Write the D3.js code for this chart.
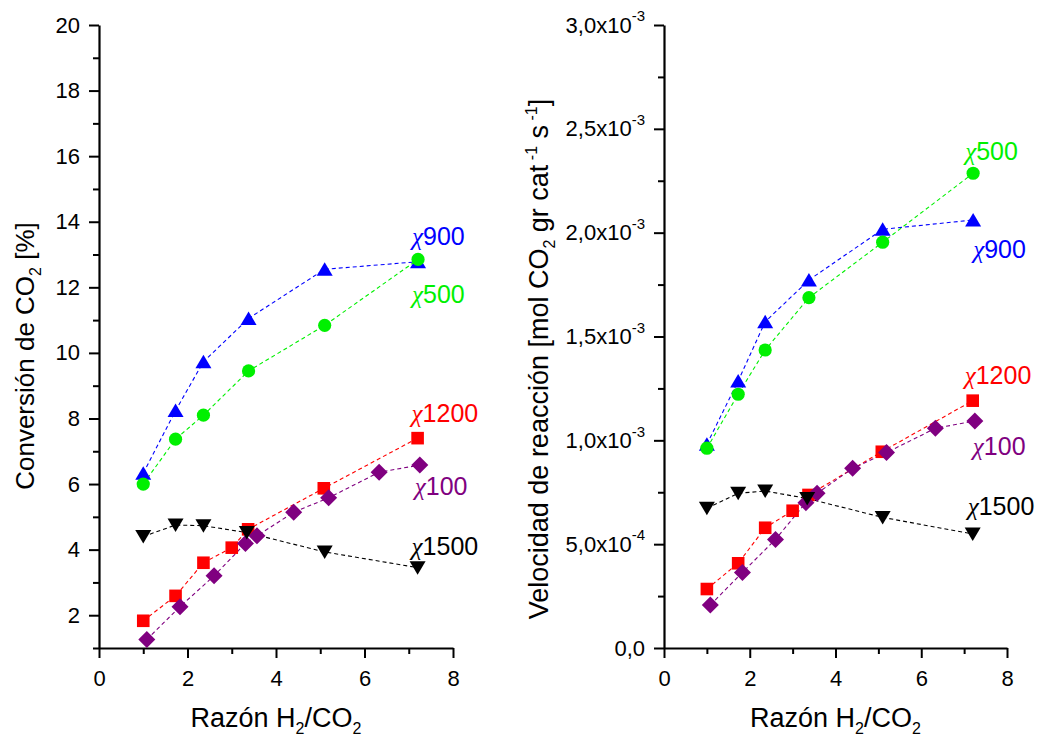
<!DOCTYPE html>
<html><head><meta charset="utf-8">
<script src="https://cdn.jsdelivr.net/npm/d3@7/dist/d3.min.js"></script>
<style>
body{margin:0;background:#fff}
svg{display:block}
text{font-family:"Liberation Sans",Arial,Helvetica,sans-serif;fill:#000}
</style>
</head><body>
<svg id="chart" width="1059" height="738"></svg>
<script>
// ---------------- data ----------------
const xMajorTicks = [0, 2, 4, 6, 8];
const xMinorTicks = [1, 3, 5, 7];
const convMajorTicks = [2, 4, 6, 8, 10, 12, 14, 16, 18, 20];
const convMinorTicks = [1, 3, 5, 7, 9, 11, 13, 15, 17, 19];
const rateMajorTicks = [0, 5e-4, 1e-3, 1.5e-3, 2e-3, 2.5e-3, 3e-3];
const rateMinorTicks = [2.5e-4, 7.5e-4, 1.25e-3, 1.75e-3, 2.25e-3, 2.75e-3];

const seriesNames = ["χ900", "χ500", "χ1200", "χ100", "χ1500"];

const ratio900  = [1.0, 1.73, 2.36, 3.38, 5.1, 7.21];
const ratio500  = [1.0, 1.73, 2.36, 3.38, 5.1, 7.21];
const ratio1200 = [1.0, 1.73, 2.36, 3.0, 3.37, 5.08, 7.2];
const ratio100  = [1.08, 1.83, 2.6, 3.31, 3.57, 4.4, 5.19, 6.33, 7.25];
const ratio1500 = [1.0, 1.73, 2.36, 3.34, 5.1, 7.2];

const conv900  = [6.33, 8.24, 9.73, 11.05, 12.55, 12.78];
const conv500  = [6.0, 7.37, 8.1, 9.45, 10.84, 12.85];
const conv1200 = [1.83, 2.59, 3.6, 4.06, 4.62, 5.87, 7.4];
const conv100  = [1.26, 2.26, 3.2, 4.19, 4.42, 5.14, 5.58, 6.36, 6.58];
const conv1500 = [4.4, 4.75, 4.73, 4.52, 3.93, 3.45];

const rate900  = [0.981e-3, 1.286e-3, 1.571e-3, 1.772e-3, 2.016e-3, 2.061e-3];
const rate500  = [0.962e-3, 1.222e-3, 1.435e-3, 1.687e-3, 1.954e-3, 2.286e-3];
const rate1200 = [0.284e-3, 0.408e-3, 0.579e-3, 0.661e-3, 0.737e-3, 0.945e-3, 1.191e-3];
const rate100  = [0.207e-3, 0.364e-3, 0.523e-3, 0.700e-3, 0.745e-3, 0.865e-3, 0.941e-3, 1.058e-3, 1.093e-3];
const rate1500 = [0.673e-3, 0.745e-3, 0.756e-3, 0.72e-3, 0.629e-3, 0.549e-3];

// ---------------- styles ----------------
const colors = {"χ900":"#0000ff","χ500":"#00f000","χ1200":"#ff0000","χ100":"#800080","χ1500":"#000000"};
const shapes = {"χ900":"up","χ500":"circle","χ1200":"square","χ100":"diamond","χ1500":"down"};

const svg = d3.select("#chart");

function markerPath(shape){
  const p = d3.path();
  if(shape==="up"){ p.moveTo(0,-7); p.lineTo(8,6.5); p.lineTo(-8,6.5); p.closePath(); }
  else if(shape==="down"){ p.moveTo(0,7); p.lineTo(8,-6.5); p.lineTo(-8,-6.5); p.closePath(); }
  else if(shape==="square"){ p.rect(-6.3,-6.3,12.6,12.6); }
  else if(shape==="diamond"){ p.moveTo(0,-8.5); p.lineTo(8.5,0); p.lineTo(0,8.5); p.lineTo(-8.5,0); p.closePath(); }
  else { p.arc(0,0,6.6,0,2*Math.PI); }
  return p.toString();
}

function drawPanel(cfg){
  const x = d3.scaleLinear().domain([0,8]).range(cfg.xRange);
  const y = d3.scaleLinear().domain(cfg.yDomain).range([648,25]);
  const g = svg.append("g");

  // minor ticks
  g.append("g").attr("transform",`translate(0,648)`)
    .call(d3.axisBottom(x).tickValues(xMinorTicks).tickSize(6).tickFormat(""))
    .call(s=>s.select(".domain").remove());
  g.append("g").attr("transform",`translate(${cfg.xRange[0]},0)`)
    .call(d3.axisLeft(y).tickValues(cfg.yMinor).tickSize(6).tickFormat(""))
    .call(s=>s.select(".domain").remove());

  // major axes
  const xa = g.append("g").attr("transform",`translate(0,648)`)
    .call(d3.axisBottom(x).tickValues(xMajorTicks).tickSize(10).tickSizeOuter(0).tickPadding(7).tickFormat(d3.format("d")));
  const ya = g.append("g").attr("transform",`translate(${cfg.xRange[0]},0)`)
    .call(d3.axisLeft(y).tickValues(cfg.yMajor).tickSize(10).tickSizeOuter(0).tickPadding(9).tickFormat(cfg.fmt));

  g.selectAll(".domain").attr("stroke","#000").attr("stroke-width",2.2);
  g.selectAll(".tick line").attr("stroke","#000").attr("stroke-width",2);
  g.selectAll(".tick text").attr("font-size",22).attr("font-family","Liberation Sans, Arial, sans-serif").attr("fill","#000");
  xa.selectAll(".tick text").attr("dy","0.95em");

  if(cfg.sci){
    ya.selectAll(".tick text").each(function(d){
      const t = d3.select(this);
      if(d===0){ t.text("0,0"); return; }
      const e = Math.floor(Math.log10(d)+1e-9);
      const m = d/Math.pow(10,e);
      t.text(null);
      t.append("tspan").text(m.toFixed(1).replace(".",",")+"x10");
      t.append("tspan").attr("font-size",15).attr("dy","-0.75em").text(String(e));
    });
  }

  // series
  cfg.series.forEach(s=>{
    const pts = s.xs.map((v,i)=>[x(v), y(s.ys[i])]);
    g.append("path").attr("d", d3.line()(pts))
      .attr("fill","none").attr("stroke",colors[s.name]).attr("stroke-width",1.1)
      .attr("stroke-dasharray","4,3");
  });
  cfg.series.forEach(s=>{
    g.append("g").selectAll("path").data(s.xs.map((v,i)=>[v,s.ys[i]])).join("path")
      .attr("transform",d=>`translate(${x(d[0])},${y(d[1])})`)
      .attr("d", markerPath(shapes[s.name]))
      .attr("fill",colors[s.name]);
  });
  // labels
  cfg.series.forEach(s=>{
    const n = s.xs.length-1;
    const off = cfg.labelOff[s.name];
    const t = g.append("text")
      .attr("x", x(s.xs[n])+off[0]).attr("y", y(s.ys[n])+off[1])
      .attr("font-size",25).style("fill",colors[s.name]);
    t.append("tspan").attr("font-family","Liberation Serif, DejaVu Serif, serif").attr("font-style","italic").text("χ");
    t.append("tspan").text(s.name.slice(1));
  });

  // x title
  const cx = (cfg.xRange[0]+cfg.xRange[1])/2;
  const xt = g.append("text").attr("x",cx).attr("y",727).attr("text-anchor","middle").attr("font-size",27);
  xt.append("tspan").text("Razón H");
  xt.append("tspan").attr("font-size",16).attr("dy",7).text("2");
  xt.append("tspan").attr("dy",-7).text("/CO");
  xt.append("tspan").attr("font-size",16).attr("dy",7).text("2");

  // y title
  const yt = g.append("text").attr("transform",`translate(${cfg.yTitleX},${cfg.yTitleY}) rotate(-90)`)
    .attr("text-anchor","middle").attr("font-size",cfg.yTitleSize);
  cfg.yTitle.forEach(p=>{
    const ts = yt.append("tspan").text(p.t);
    if(p.sub){ ts.attr("font-size",16).attr("dy",7); }
    if(p.sup){ ts.attr("font-size",16).attr("dy",-11); }
    if(p.back){ ts.attr("dy",p.back); }
  });
}

drawPanel({
  xRange:[99,453], yDomain:[1,20], yMajor:convMajorTicks, yMinor:convMinorTicks,
  fmt:d3.format("d"), sci:false,
  series:[
    {name:"χ900", xs:ratio900, ys:conv900},
    {name:"χ500", xs:ratio500, ys:conv500},
    {name:"χ1200", xs:ratio1200, ys:conv1200},
    {name:"χ100", xs:ratio100, ys:conv100},
    {name:"χ1500", xs:ratio1500, ys:conv1500}
  ],
  labelOff:{"χ900":[-6,-17],"χ500":[-6,44],"χ1200":[-6,-16],"χ100":[-5,30],"χ1500":[-6,-13]},
  yTitleX:34, yTitleY:356, yTitleSize:26,
  yTitle:[{t:"Conversión de CO"},{t:"2",sub:true},{t:" [%]",back:-7}]
});

drawPanel({
  xRange:[664,1007], yDomain:[0,3e-3], yMajor:rateMajorTicks, yMinor:rateMinorTicks,
  fmt:d=>String(d), sci:true,
  series:[
    {name:"χ900", xs:ratio900, ys:rate900},
    {name:"χ500", xs:ratio500, ys:rate500},
    {name:"χ1200", xs:ratio1200, ys:rate1200},
    {name:"χ100", xs:ratio100, ys:rate100},
    {name:"χ1500", xs:ratio1500, ys:rate1500}
  ],
  labelOff:{"χ900":[0,38],"χ500":[-8,-13],"χ1200":[-8,-17],"χ100":[-2,34],"χ1500":[-5,-19]},
  yTitleX:548, yTitleY:359, yTitleSize:27,
  yTitle:[{t:"Velocidad de reacción [mol CO"},{t:"2",sub:true},{t:" gr cat",back:-7},
          {t:" -1",sup:true},{t:" s",back:11},{t:" -1",sup:true},{t:"]",back:11}]
});
</script>
</body></html>
